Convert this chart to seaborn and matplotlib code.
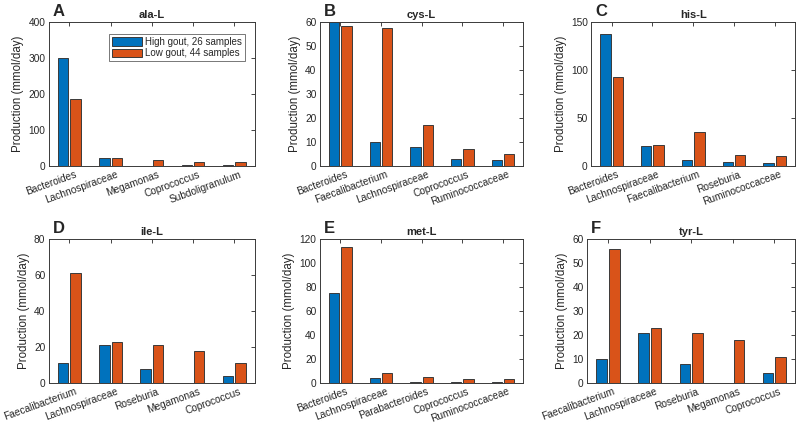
import pandas as pd
import numpy as np
import matplotlib.pyplot as plt
import matplotlib.transforms as mtransforms
import seaborn as sns

sns.set_theme(style="white")
plt.rcParams['font.family'] = ['Liberation Sans', 'DejaVu Sans']

groups = ["High gout, 26 samples", "Low gout, 44 samples"]
colors = ["#0072BD", "#D95319"]

ala_taxa = ["Bacteroides", "Lachnospiraceae", "Megamonas", "Coprococcus", "Subdoligranulum"]
ala_high = [300, 21, 0, 4, 2]
ala_low = [185, 23, 18, 11, 12]

cys_taxa = ["Bacteroides", "Faecalibacterium", "Lachnospiraceae", "Coprococcus", "Ruminococcaceae"]
cys_high = [60, 10, 8, 3, 2.5]
cys_low = [58.5, 57.5, 17, 7, 5]

his_taxa = ["Bacteroides", "Lachnospiraceae", "Faecalibacterium", "Roseburia", "Ruminococcaceae"]
his_high = [137, 21, 6, 4, 3]
his_low = [93, 22, 35, 11, 10]

ile_taxa = ["Faecalibacterium", "Lachnospiraceae", "Roseburia", "Megamonas", "Coprococcus"]
ile_high = [11, 21, 8, 0, 4]
ile_low = [61, 23, 21, 18, 11]

met_taxa = ["Bacteroides", "Lachnospiraceae", "Parabacteroides", "Coprococcus", "Ruminococcaceae"]
met_high = [75, 4.5, 0.7, 1.2, 0.7]
met_low = [113, 8.5, 5, 3.5, 3.2]

tyr_taxa = ["Faecalibacterium", "Lachnospiraceae", "Roseburia", "Megamonas", "Coprococcus"]
tyr_high = [10, 21, 8, 0, 4]
tyr_low = [56, 23, 21, 18, 11]

# letra, titulo, taxa, alto, baixo, ymax, passo, posicao dos eixos
paineis = [
    ("A", "ala-L", ala_taxa, ala_high, ala_low, 400, 100, [0.061, 0.6175, 0.2575, 0.332]),
    ("B", "cys-L", cys_taxa, cys_high, cys_low, 60, 10, [0.400, 0.6175, 0.254, 0.332]),
    ("C", "his-L", his_taxa, his_high, his_low, 150, 50, [0.739, 0.6175, 0.255, 0.332]),
    ("D", "ile-L", ile_taxa, ile_high, ile_low, 80, 20, [0.061, 0.1175, 0.2575, 0.332]),
    ("E", "met-L", met_taxa, met_high, met_low, 120, 20, [0.400, 0.1175, 0.254, 0.332]),
    ("F", "tyr-L", tyr_taxa, tyr_high, tyr_low, 60, 10, [0.734, 0.1175, 0.260, 0.332]),
]

fig = plt.figure(figsize=(8, 4.34), dpi=100)
cinza = "#262626"
# desloca os rotulos do eixo x um pouco para a direita, como no original
desloca = mtransforms.ScaledTranslation(5 / 100, 0, fig.dpi_scale_trans)

for letra, titulo, taxa, alto, baixo, ymax, passo, pos in paineis:
    ax = fig.add_axes(pos)
    df = pd.DataFrame({
        "taxon": taxa * 2,
        "valor": list(alto) + list(baixo),
        "grupo": [groups[0]] * len(taxa) + [groups[1]] * len(taxa),
    })
    sns.barplot(data=df, x="taxon", y="valor", hue="grupo", palette=colors,
                saturation=1, width=0.6, gap=0.15, edgecolor="#3a3a3a",
                linewidth=0.7, errorbar=None, ax=ax, legend=(letra == "A"))
    ax.set_ylim(0, ymax)
    ax.set_xlim(-0.5, len(taxa) - 0.5)
    ax.set_yticks(np.arange(0, ymax + 1, passo))
    ax.set_xlabel("")
    ax.set_ylabel("Production (mmol/day)", fontsize=8.3, color=cinza, labelpad=3)
    ax.set_title(titulo, fontsize=8, fontweight="bold", pad=3)
    ax.set_xticks(range(len(taxa)))
    ax.set_xticklabels(taxa, rotation=20, ha="right", rotation_mode="anchor")
    ax.tick_params(axis="both", labelsize=7.3, colors=cinza, direction="in",
                   length=3, width=0.6, right=True, top=True, pad=2.5)
    # tick_params redefine o transform, por isso o deslocamento vem depois
    for lbl in ax.get_xticklabels():
        lbl.set_transform(lbl.get_transform() + desloca)
    for sp in ax.spines.values():
        sp.set_color("#3a3a3a")
        sp.set_linewidth(0.7)
    ax.text(0.02, 1.02, letra, transform=ax.transAxes, fontsize=12,
            fontweight="bold", va="bottom", ha="left")
    if letra == "A":
        leg = ax.legend(loc="upper right", fontsize=7, frameon=True,
                        fancybox=False, edgecolor="#3a3a3a", handlelength=3.1,
                        handleheight=0.95, borderpad=0.3, labelspacing=0.15,
                        handletextpad=0.3, borderaxespad=0.2,
                        bbox_to_anchor=(0.96, 0.93))
        leg.get_frame().set_linewidth(0.6)

fig.savefig("out.png", dpi=100)
